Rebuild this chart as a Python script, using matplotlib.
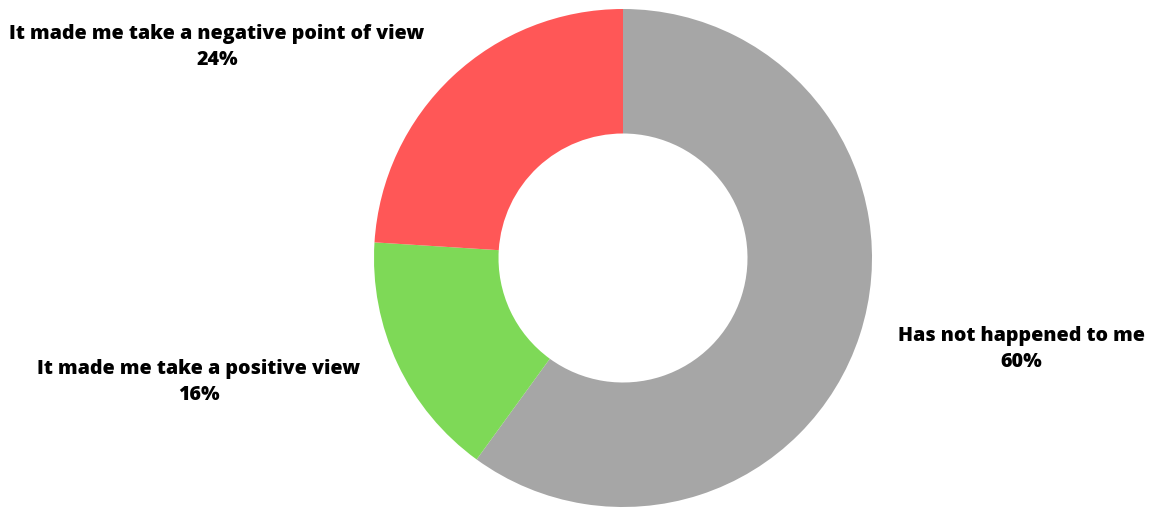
import matplotlib
matplotlib.use("Agg")
import matplotlib.pyplot as plt

labels = ["Has not happened to me", "It made me take a positive view",
          "It made me take a negative point of view"]
shares = [60, 16, 24]
colors = ["#A6A6A6", "#7ED957", "#FF5757"]

W, H = 1149, 508
fig = plt.figure(figsize=(W / 100, H / 100), dpi=100)

# donut centred at (623, 258) px, outer radius 249 px
cx, cy, r = 623, 258, 249
ax = fig.add_axes([(cx - r) / W, (H - cy - r) / H, 2 * r / W, 2 * r / H])
ax.pie(shares, colors=colors, startangle=90, counterclock=False,
       radius=1, wedgeprops=dict(width=0.5, linewidth=0))
ax.set_xlim(-1, 1)
ax.set_ylim(-1, 1)
ax.set_aspect("equal")
ax.axis("off")

# label centres in pixels (x, first-line y)
label_pos = [(1021, 336), (199, 369), (217, 34)]
for lbl, val, (px, py) in zip(labels, shares, label_pos):
    fig.text(px / W, 1 - py / H, lbl, ha="center", va="center",
             fontsize=14.15, fontweight="heavy", family="Open Sans")
    fig.text(px / W, 1 - (py + 26) / H, f"{val}%", ha="center", va="center",
             fontsize=14.15, fontweight="heavy", family="Open Sans")

fig.savefig("out.png", dpi=100)
